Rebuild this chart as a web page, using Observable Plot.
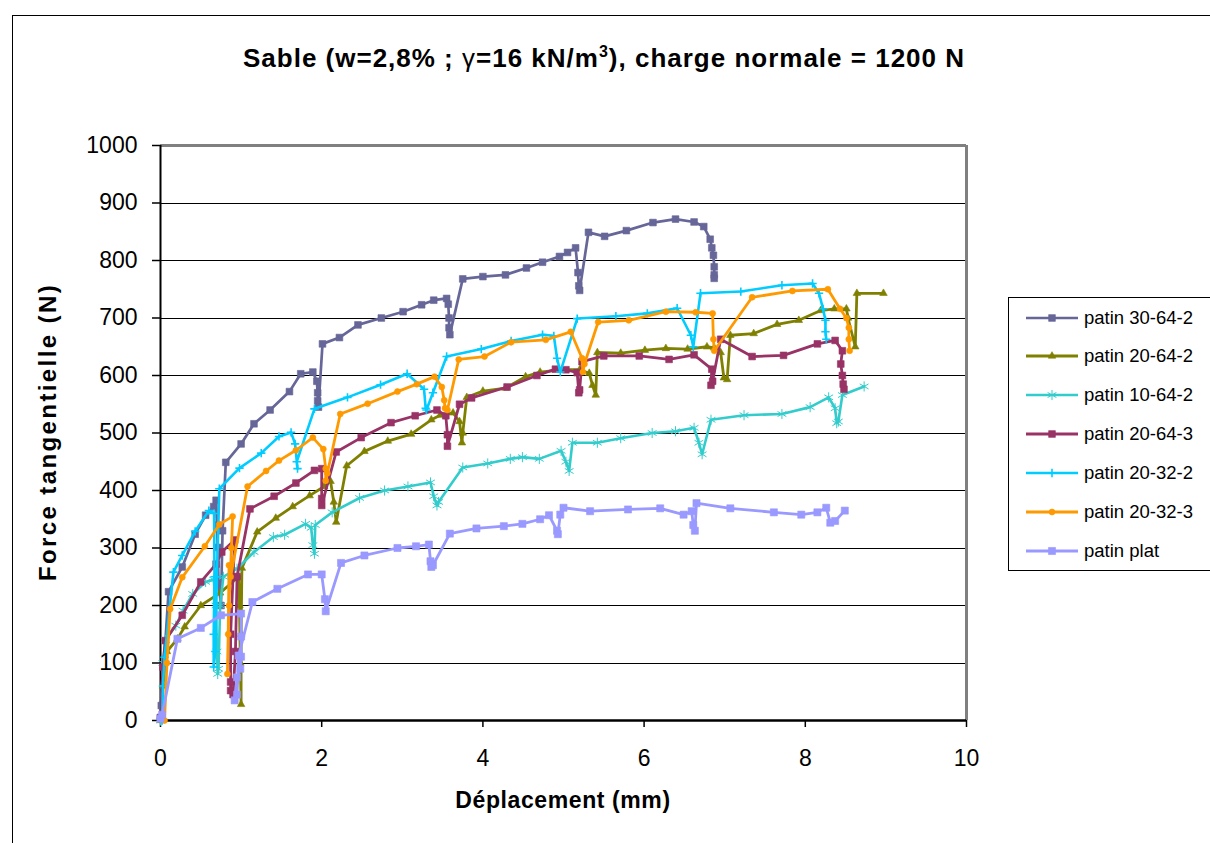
<!DOCTYPE html>
<html>
<head>
<meta charset="utf-8">
<script src="https://cdn.jsdelivr.net/npm/d3@7"></script>
<script src="https://cdn.jsdelivr.net/npm/@observablehq/plot@0.6"></script>
<style>
  body { margin: 0; background: #fff; }
  #wrap { position: relative; width: 1210px; height: 843px; overflow: hidden; font-family: "Liberation Sans", Arial, sans-serif; }
  #wrap svg { position: absolute; left: 0; top: 0; }
  .abs { position: absolute; white-space: nowrap; line-height: 1; color: #000; }
</style>
</head>
<body>
<div id="wrap"></div>
<script>
// ---------- DATA ----------
const seriesNames = ["patin 30-64-2", "patin 20-64-2", "patin 10-64-2", "patin 20-64-3", "patin 20-32-2", "patin 20-32-3", "patin plat"];
const seriesColors = ["#666699", "#808000", "#33CCCC", "#993366", "#00CCFF", "#FF9900", "#9999FF"];
const xTicks = [0, 2, 4, 6, 8, 10];
const yTicks = [0, 100, 200, 300, 400, 500, 600, 700, 800, 900, 1000];

const x_30_64_2 = [0, 0.01, 0.10, 0.27, 0.43, 0.56, 0.66, 0.69, 0.70, 0.71, 0.72, 0.75, 0.77, 0.81, 1.00, 1.16, 1.36, 1.60, 1.74, 1.89, 1.94, 1.95, 1.95, 1.96, 2.01, 2.22, 2.45, 2.74, 3.01, 3.24, 3.39, 3.55, 3.57, 3.58, 3.58, 3.59, 3.75, 4.00, 4.28, 4.54, 4.74, 4.95, 5.05, 5.15, 5.18, 5.19, 5.20, 5.31, 5.51, 5.78, 6.11, 6.39, 6.62, 6.74, 6.82, 6.84, 6.86, 6.87, 6.87, 6.87];
const y_30_64_2 = [5, 26, 224, 267, 324, 357, 372, 383, 340, 301, 240, 200, 330, 449, 481, 516, 540, 572, 603, 606, 590, 570, 556, 545, 655, 666, 688, 700, 711, 723, 731, 734, 724, 700, 683, 671, 768, 772, 775, 787, 797, 807, 814, 822, 779, 756, 748, 849, 842, 852, 866, 872, 867, 859, 837, 822, 809, 789, 775, 769];

const x_20_64_2 = [0, 0.03, 0.08, 0.21, 0.30, 0.50, 0.74, 0.97, 0.98, 0.99, 1.00, 1.00, 1.01, 1.20, 1.43, 1.64, 1.85, 2.03, 2.11, 2.15, 2.18, 2.31, 2.53, 2.82, 3.11, 3.36, 3.47, 3.63, 3.71, 3.74, 3.75, 3.80, 4.00, 4.28, 4.53, 4.71, 4.98, 5.20, 5.32, 5.36, 5.40, 5.42, 5.71, 6.01, 6.27, 6.54, 6.78, 6.87, 6.95, 6.99, 7.03, 7.07, 7.36, 7.65, 7.92, 8.19, 8.36, 8.51, 8.53, 8.62, 8.64, 8.97];
const y_20_64_2 = [0, 60, 120, 142, 163, 200, 222, 250, 200, 100, 28, 150, 265, 328, 352, 372, 391, 407, 416, 380, 345, 443, 468, 486, 498, 523, 531, 535, 520, 483, 500, 562, 573, 578, 598, 606, 610, 610, 604, 583, 566, 640, 639, 644, 647, 646, 650, 648, 640, 596, 593, 670, 673, 689, 696, 713, 716, 716, 700, 650, 743, 743];

const x_10_64_2 = [0, 0.03, 0.06, 0.19, 0.28, 0.40, 0.56, 0.66, 0.69, 0.70, 0.71, 0.72, 0.74, 0.78, 0.95, 1.16, 1.40, 1.54, 1.80, 1.87, 1.89, 1.91, 1.92, 2.13, 2.47, 2.78, 3.07, 3.35, 3.39, 3.43, 3.45, 3.75, 4.06, 4.34, 4.49, 4.70, 4.97, 5.03, 5.07, 5.11, 5.42, 5.71, 6.10, 6.39, 6.62, 6.68, 6.72, 6.83, 7.24, 7.71, 8.06, 8.29, 8.37, 8.39, 8.41, 8.46, 8.73];
const y_10_64_2 = [0, 100, 140, 165, 191, 220, 241, 245, 200, 120, 81, 90, 200, 250, 264, 293, 319, 323, 342, 335, 305, 290, 340, 362, 387, 400, 407, 414, 390, 374, 380, 440, 447, 455, 458, 455, 469, 450, 434, 483, 483, 491, 500, 503, 509, 483, 463, 523, 531, 533, 545, 562, 543, 517, 520, 566, 581];

const x_20_64_3 = [0, 0.03, 0.06, 0.27, 0.50, 0.69, 0.76, 0.92, 0.90, 0.87, 0.87, 0.87, 0.90, 0.93, 0.95, 1.11, 1.41, 1.68, 1.91, 2.00, 2.00, 2.00, 2.18, 2.49, 2.86, 3.16, 3.43, 3.54, 3.56, 3.56, 3.71, 3.86, 4.30, 4.67, 4.90, 5.03, 5.17, 5.19, 5.20, 5.23, 5.50, 5.94, 6.31, 6.62, 6.84, 6.83, 6.85, 6.95, 7.34, 7.73, 8.15, 8.37, 8.46, 8.44, 8.46, 8.47, 8.48];
const y_20_64_3 = [5, 93, 139, 183, 241, 272, 293, 314, 250, 150, 67, 52, 45, 120, 250, 368, 390, 413, 435, 438, 386, 374, 467, 492, 518, 530, 540, 530, 497, 477, 550, 561, 580, 600, 611, 610, 605, 570, 575, 624, 634, 634, 628, 636, 611, 583, 590, 663, 633, 635, 655, 661, 643, 620, 600, 585, 576];

const x_20_32_2 = [0.02, 0.03, 0.05, 0.16, 0.27, 0.43, 0.60, 0.665, 0.67, 0.66, 0.66, 0.68, 0.70, 0.73, 0.98, 1.25, 1.47, 1.62, 1.67, 1.70, 1.69, 1.91, 2.32, 2.73, 3.06, 3.27, 3.29, 3.30, 3.38, 3.55, 3.98, 4.35, 4.74, 4.88, 4.92, 4.96, 5.17, 5.65, 6.04, 6.41, 6.58, 6.61, 6.70, 7.20, 7.71, 8.09, 8.17, 8.22, 8.25, 8.25, 8.26];
const y_20_32_2 = [0, 60, 110, 258, 287, 329, 365, 360, 250, 150, 93, 120, 250, 403, 439, 465, 494, 501, 481, 438, 450, 542, 562, 584, 603, 576, 543, 540, 570, 633, 646, 660, 671, 669, 630, 606, 699, 703, 708, 717, 670, 650, 743, 746, 757, 760, 743, 716, 696, 676, 663];

const x_20_32_3 = [0.05, 0.08, 0.12, 0.27, 0.55, 0.73, 0.895, 0.88, 0.85, 0.83, 0.84, 0.85, 0.87, 1.08, 1.31, 1.47, 1.68, 1.89, 2.02, 2.05, 2.05, 2.07, 2.23, 2.57, 2.94, 3.18, 3.40, 3.49, 3.52, 3.53, 3.56, 3.70, 4.02, 4.35, 4.78, 5.09, 5.23, 5.24, 5.26, 5.43, 5.81, 6.27, 6.64, 6.85, 6.86, 6.87, 7.34, 7.84, 8.28, 8.43, 8.51, 8.54, 8.54, 8.55];
const y_20_32_3 = [0, 100, 194, 249, 303, 341, 355, 300, 200, 81, 150, 270, 250, 407, 434, 452, 470, 492, 472, 438, 417, 430, 533, 551, 572, 585, 598, 580, 557, 543, 540, 628, 633, 658, 662, 676, 630, 606, 620, 693, 696, 711, 710, 708, 663, 643, 736, 747, 750, 716, 700, 683, 663, 643];

const x_plat = [0, 0.02, 0.21, 0.50, 0.75, 1.00, 1.00, 1.00, 0.99, 0.95, 0.92, 0.95, 0.97, 1.14, 1.45, 1.83, 2.00, 2.04, 2.05, 2.24, 2.53, 2.94, 3.17, 3.33, 3.35, 3.36, 3.38, 3.59, 3.92, 4.26, 4.49, 4.71, 4.82, 4.92, 4.93, 4.96, 5.00, 5.33, 5.80, 6.20, 6.49, 6.59, 6.61, 6.63, 6.65, 7.07, 7.61, 7.95, 8.15, 8.26, 8.31, 8.37, 8.49];
const y_plat = [3, 10, 142, 161, 183, 186, 146, 111, 90, 75, 35, 45, 113, 206, 229, 254, 254, 211, 190, 274, 287, 300, 303, 306, 277, 267, 270, 325, 334, 338, 342, 350, 357, 330, 324, 358, 370, 364, 367, 369, 358, 364, 340, 330, 378, 369, 362, 358, 362, 370, 344, 347, 365];

// ---------- BUILD ----------
const seriesX = [x_30_64_2, x_20_64_2, x_10_64_2, x_20_64_3, x_20_32_2, x_20_32_3, x_plat];
const seriesY = [y_30_64_2, y_20_64_2, y_10_64_2, y_20_64_3, y_20_32_2, y_20_32_3, y_plat];
const rows = seriesNames.map((s, i) => seriesX[i].map((x, j) => ({s, x, y: seriesY[i][j]})));

const markerStyle = [
  {symbol: "square", r: 3.8, fill: true},
  {symbol: "triangle", r: 2.8, fill: true},
  {symbol: "asterisk", r: 4.8, fill: false, sw: 1},
  {symbol: "square", r: 3.8, fill: true},
  {symbol: "plus", r: 2.8, fill: false, sw: 1.6},
  {symbol: "circle", r: 3.0, fill: true},
  {symbol: "square", r: 4.0, fill: true}
];
const lineWidth = [2.7, 2.8, 2.6, 2.8, 2.6, 2.8, 2.8];

const seriesMarks = rows.flatMap((data, i) => {
  const c = seriesColors[i], m = markerStyle[i];
  return [
    Plot.line(data, {x: "x", y: "y", stroke: c, strokeWidth: lineWidth[i], strokeLinejoin: "round"}),
    Plot.dot(data, m.fill
      ? {x: "x", y: "y", symbol: () => m.symbol, r: m.r, fill: c, stroke: c, strokeWidth: 0.6}
      : {x: "x", y: "y", symbol: () => m.symbol, r: m.r, fill: "none", stroke: c, strokeWidth: m.sw})
  ];
});

const chart = Plot.plot({
  width: 1210,
  height: 843,
  marginLeft: 160,
  marginRight: 244,
  marginTop: 145,
  marginBottom: 123,
  x: {domain: [0, 10]},
  y: {domain: [0, 1000]},
  symbol: {type: "identity"},
  style: {fontFamily: "'Liberation Sans', Arial, sans-serif", background: "transparent", color: "#000"},
  marks: [
    Plot.ruleY(yTicks.filter(d => d > 0 && d < 1000), {stroke: "#000", strokeWidth: 1, shapeRendering: "crispEdges"}),
    Plot.axisY({ticks: yTicks, tickSize: 8, tickPadding: 15, fontSize: 23, label: null, stroke: "#000", strokeWidth: 1.5, tickFormat: d => String(d)}),
    Plot.axisX({ticks: xTicks, tickSize: 7, tickPadding: 22, fontSize: 23, label: null, stroke: "#000", strokeWidth: 1.5, tickFormat: d => String(d)}),
    Plot.ruleY([1000], {stroke: "#808080", strokeWidth: 3}),
    Plot.ruleX([10], {stroke: "#808080", strokeWidth: 3}),
    Plot.ruleX([0], {stroke: "#000", strokeWidth: 2}),
    Plot.ruleY([0], {stroke: "#000", strokeWidth: 2.5}),
    ...seriesMarks
  ]
});

const wrap = document.getElementById("wrap");

const border = document.createElement("div");
border.style.cssText = "position:absolute;left:12px;top:15px;width:1300px;height:900px;border-left:1px solid #000;border-top:1px solid #000;";
wrap.appendChild(border);

wrap.appendChild(chart);

// title
const title = document.createElement("div");
title.className = "abs";
title.style.cssText += "left:0;width:1208px;text-align:center;top:45px;font-size:26px;font-weight:bold;letter-spacing:1px;";
title.innerHTML = 'Sable (w=2,8% ; <span style="font-weight:normal">γ</span>=16 kN/m<sup style="font-size:16px;line-height:0">3</sup>), charge normale = 1200 N';
wrap.appendChild(title);

// x axis title
const xt = document.createElement("div");
xt.className = "abs";
xt.style.cssText += "left:363px;width:400px;text-align:center;top:789px;font-size:23px;font-weight:bold;letter-spacing:0.6px;";
xt.textContent = "Déplacement (mm)";
wrap.appendChild(xt);

// y axis title
const yt = document.createElement("div");
yt.className = "abs";
yt.style.cssText += "left:-152px;width:400px;text-align:center;top:420px;font-size:24px;font-weight:bold;letter-spacing:2.4px;transform:rotate(-90deg);transform-origin:200px 12px;";
yt.textContent = "Force tangentielle (N)";
wrap.appendChild(yt);

// legend
const leg = document.createElement("div");
leg.style.cssText = "position:absolute;left:1008px;top:297px;width:220px;height:272px;border:1.5px solid #000;background:#fff;";
wrap.appendChild(leg);
const symMap = {square: d3.symbolSquare, triangle: d3.symbolTriangle, asterisk: d3.symbolAsterisk, plus: d3.symbolPlus, circle: d3.symbolCircle};
seriesNames.forEach((name, i) => {
  const cy = 19.5 + i * 38.9;
  const svg = d3.create("svg").attr("width", 60).attr("height", 20)
    .style("position", "absolute").style("left", "15px").style("top", (cy - 10) + "px");
  svg.append("line").attr("x1", 2).attr("x2", 54).attr("y1", 10).attr("y2", 10)
    .attr("stroke", seriesColors[i]).attr("stroke-width", lineWidth[i]);
  const m = markerStyle[i];
  svg.append("path").attr("transform", "translate(28,10)")
    .attr("d", d3.symbol(symMap[m.symbol], m.r * m.r * Math.PI)())
    .attr("fill", m.fill ? seriesColors[i] : "none")
    .attr("stroke", seriesColors[i]).attr("stroke-width", m.fill ? 0.6 : (m.sw || 1));
  leg.appendChild(svg.node());
  const t = document.createElement("div");
  t.className = "abs";
  t.style.cssText += `left:75px;top:${cy - 9}px;font-size:18.5px;`;
  t.textContent = name;
  leg.appendChild(t);
});
</script>
</body>
</html>
